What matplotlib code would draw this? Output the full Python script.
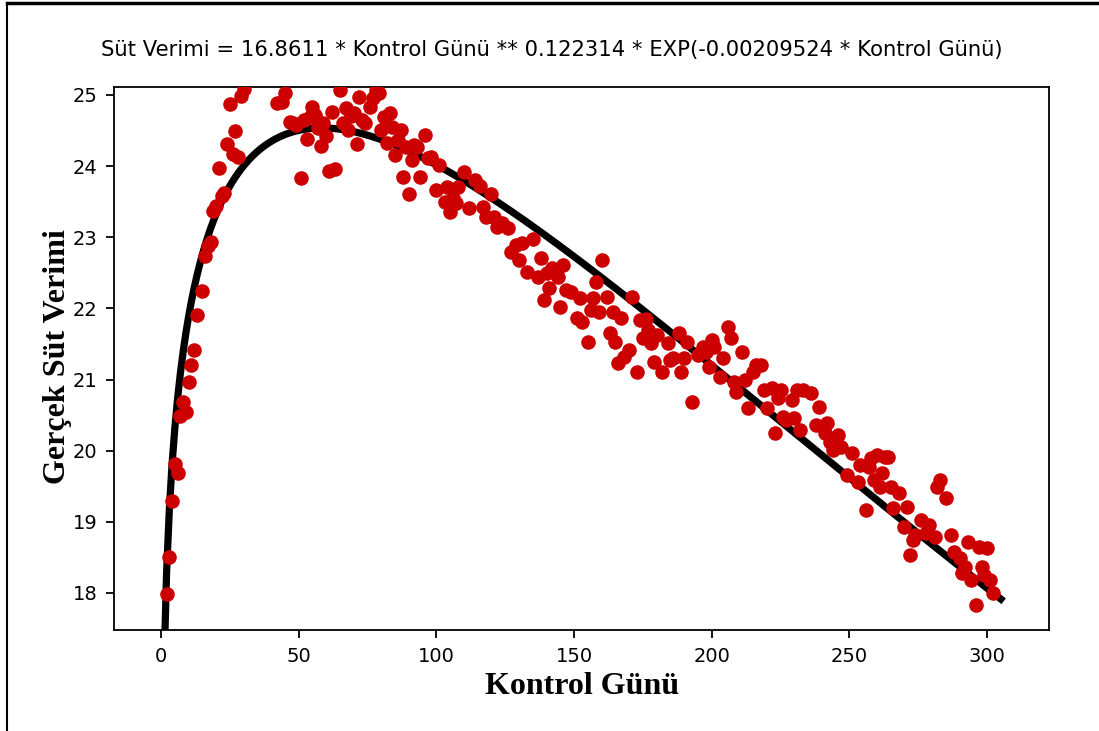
import matplotlib
matplotlib.use("Agg")
import matplotlib.pyplot as plt
from matplotlib.lines import Line2D
import numpy as np

# fitted model coefficients (from the title)
a_coef = 16.8611
b_coef = 0.122314
c_coef = -0.00209524

# observed points: control day, actual milk yield
days = [2, 3, 4, 5, 6, 7, 8, 9, 10, 11, 12, 13, 15, 16, 17, 18, 19, 20, 21, 22,
        23, 24, 25, 26, 27, 28, 29, 30, 31,
        42, 44, 45, 47, 48, 49, 51, 52, 53, 54, 55, 56, 57, 58, 59, 60, 61, 62, 63,
        65, 66, 67, 68, 69, 70, 71, 72, 73, 74, 76, 77, 78, 79, 80, 81, 82, 83, 84,
        85, 86, 87,
        88, 89, 90, 91, 92, 93, 94, 96, 97, 98, 100, 101, 103, 104, 105, 106, 107,
        108, 110, 112, 114, 116, 117, 118, 120, 121, 122, 124, 126, 127, 129, 130,
        131, 133, 135, 137, 138, 139, 140, 141, 142, 144, 145, 146, 147, 149, 151,
        152, 153, 155, 156, 157, 158, 159, 160, 162, 163, 164, 165, 166, 167, 168,
        170, 171, 173, 174, 175,
        176, 177, 178, 179, 180, 182, 184, 185, 186, 188, 189, 190, 191, 193, 195,
        197, 198, 199, 200, 201, 203, 204, 206, 207, 208, 209, 211, 212, 213, 215,
        216, 218, 219, 220, 222, 223, 224, 225, 226, 227, 229, 230, 231, 232, 233,
        236, 238, 239, 241, 242, 243, 244, 246, 247, 249, 251, 253, 254, 256, 257,
        258, 259, 260,
        261, 262, 263, 264, 265, 266, 268, 270, 271, 272, 273, 274, 276, 278, 279,
        281, 282, 283, 285, 287, 288, 290, 291, 292, 293, 294, 296, 297, 298, 299,
        300, 301, 302]
yields = [17.98, 18.51, 19.29, 19.81, 19.68, 20.49, 20.68, 20.55, 20.97, 21.20,
          21.42, 21.91, 22.25, 22.74, 22.87, 22.93, 23.37, 23.44, 23.97, 23.58,
          23.62, 24.31, 24.87, 24.17, 24.49, 24.13, 24.98, 25.08, 25.18,
          24.88, 24.90, 25.02, 24.62, 24.61, 24.58, 23.83, 24.65, 24.38, 24.69,
          24.83, 24.72, 24.54, 24.28, 24.60, 24.42, 23.93, 24.76, 23.96,
          25.07, 24.61, 24.82, 24.51, 24.70, 24.75, 24.31, 24.97, 24.65, 24.60,
          24.83, 24.95, 25.07, 25.02, 24.51, 24.69, 24.33, 24.75, 24.55,
          24.16, 24.37, 24.51,
          23.85, 24.27, 23.61, 24.09, 24.30, 24.27, 23.85, 24.44, 24.12, 24.13,
          23.66, 24.02, 23.50, 23.71, 23.36, 23.55, 23.48, 23.71, 23.92, 23.41,
          23.81, 23.72, 23.43, 23.29, 23.61, 23.29, 23.14, 23.20, 23.13, 22.79,
          22.89, 22.68, 22.92, 22.51, 22.98, 22.44, 22.71, 22.12, 22.50, 22.29,
          22.57, 22.44, 22.02, 22.61, 22.26, 22.23, 21.87, 22.15, 21.81, 21.53,
          21.98, 22.15, 22.37, 21.95, 22.68, 22.16, 21.65, 21.95, 21.53, 21.23,
          21.87, 21.32, 21.42, 22.16, 21.11, 21.84, 21.58,
          21.85, 21.70, 21.51, 21.25, 21.63, 21.11, 21.51, 21.28, 21.30, 21.65,
          21.11, 21.30, 21.53, 20.68, 21.35, 21.46, 21.39, 21.18, 21.56, 21.45,
          21.04, 21.30, 21.74, 21.58, 20.97, 20.83, 21.39, 21.00, 20.60, 21.11,
          21.20, 21.20, 20.85, 20.60, 20.88, 20.25, 20.74, 20.85, 20.47, 20.43,
          20.71, 20.46, 20.85, 20.29, 20.85, 20.81, 20.36, 20.61, 20.25, 20.39,
          20.12, 20.01, 20.22, 20.05, 19.66, 19.97, 19.56, 19.80, 19.17, 19.77,
          19.90, 19.59, 19.94,
          19.49, 19.69, 19.91, 19.91, 19.49, 19.19, 19.41, 18.93, 19.21, 18.53,
          18.74, 18.82, 19.03, 18.84, 18.96, 18.79, 19.49, 19.59, 19.33, 18.82,
          18.58, 18.49, 18.28, 18.37, 18.72, 18.18, 17.83, 18.65, 18.37, 18.25,
          18.63, 18.18, 18.00]

x_ticks = [0, 50, 100, 150, 200, 250, 300]
y_ticks = [18, 19, 20, 21, 22, 23, 24, 25]

sans = 'DejaVu Sans'
serif = ['Liberation Serif', 'DejaVu Serif']

fig = plt.figure(figsize=(10.99, 7.31), dpi=100)
ax = fig.add_axes([0.1037, 0.1382, 0.8508, 0.7427])

fit_x = np.arange(1, 306)
fit_y = a_coef * fit_x ** b_coef * np.exp(c_coef * fit_x)

ax.scatter(days, yields, s=110, color='#cc0000', zorder=3, linewidths=0)
ax.plot(fit_x, fit_y, color='black', linewidth=5.2, zorder=2)

ax.set_xlim(-17.1, 322.5)
ax.set_ylim(17.48, 25.11)
ax.set_xticks(x_ticks)
ax.set_yticks(y_ticks)
ax.tick_params(direction='out', length=6, width=1.3, labelsize=14, pad=6)
for lab in ax.get_xticklabels() + ax.get_yticklabels():
    lab.set_family(sans)
for sp in ax.spines.values():
    sp.set_linewidth(1.3)

fig.text(0.502, 0.932, 'Süt Verimi = 16.8611 * Kontrol Günü ** 0.122314 * EXP(-0.00209524 * Kontrol Günü)',
         ha='center', va='center', fontsize=15.2, family=sans)
fig.text(0.53, 0.061, 'Kontrol Günü', ha='center', va='center', fontsize=23,
         fontweight='bold', family=serif)
fig.text(0.052, 0.512, 'Gerçek Süt Verimi', ha='center', va='center', fontsize=23,
         fontweight='bold', family=serif, rotation=90)

# outer frame (left and top edges visible in the original)
fig.add_artist(Line2D([0.0068, 0.0068], [0, 0.996], transform=fig.transFigure, color='black', linewidth=1.5))
fig.add_artist(Line2D([0.0068, 1.0], [0.996, 0.996], transform=fig.transFigure, color='black', linewidth=2.5))

fig.savefig('out.png', dpi=100)
